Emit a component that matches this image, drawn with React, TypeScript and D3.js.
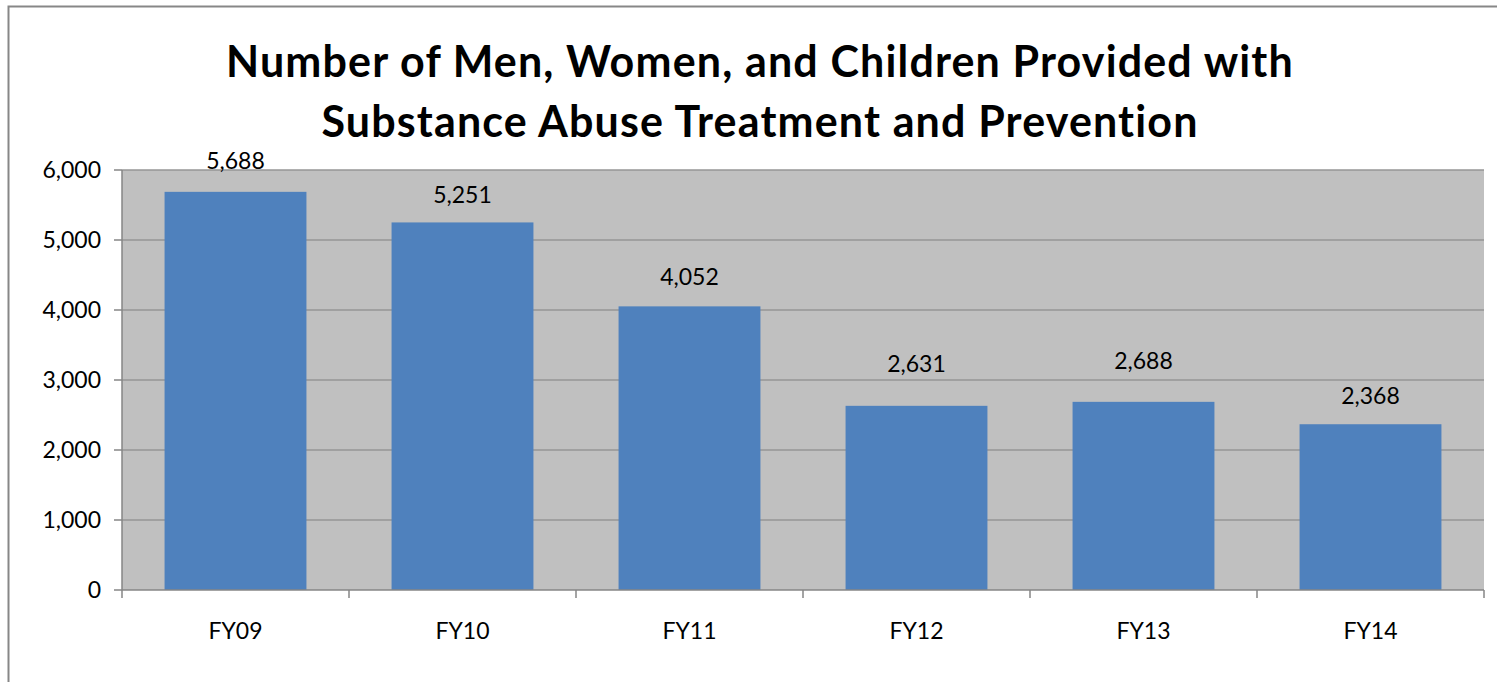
import React from 'react';
import * as d3 from 'd3';

const categories = ['FY09', 'FY10', 'FY11', 'FY12', 'FY13', 'FY14'];
const values = [5688, 5251, 4052, 2631, 2688, 2368];
const yTicks = [0, 1000, 2000, 3000, 4000, 5000, 6000];
const titleLines = [
  'Number of Men, Women, and Children Provided with',
  'Substance Abuse Treatment and Prevention',
];
// distance from bar top to label middle, as the labels sit in the original
const labelGap = [31, 28, 30, 42, 41, 29];

const W = 1497;
const H = 682;
const plot = { left: 122, right: 1484, top: 170, bottom: 590 };
const font = 'Lato, "Open Sans", sans-serif';
const fs = 23;

export default function App() {
  const x = d3.scaleBand()
    .domain(categories)
    .range([plot.left, plot.right])
    .paddingInner(0.375)
    .paddingOuter(0.1875);
  const xOuter = d3.scaleBand().domain(categories).range([plot.left, plot.right]);
  const y = d3.scaleLinear().domain([0, 6000]).range([plot.bottom, plot.top]);
  const fmt = d3.format(',');
  const half = fs * 0.36; // roughly half the digit height

  return (
    <div style={{ position: 'absolute', left: 0, top: 0 }}>
      <svg width={W} height={H} style={{ display: 'block' }}>
        <rect x={0} y={0} width={W} height={H} fill="#fff" />
        <rect x={8.5} y={6.5} width={W + 10} height={H + 10} fill="none" stroke="#878787" strokeWidth={2} />

        {titleLines.map((t, i) => (
          <text key={i} x={760} y={77 + i * 60} textAnchor="middle" fontFamily={font}
            fontWeight="bold" fontSize={43} letterSpacing={1.15} fill="#000">{t}</text>
        ))}

        <rect x={plot.left} y={plot.top} width={plot.right - plot.left} height={plot.bottom - plot.top} fill="#C0C0C0" />

        {yTicks.filter(v => v > 0).map(v => (
          <line key={v} x1={plot.left} x2={plot.right} y1={y(v)} y2={y(v)} stroke="#969696" strokeWidth={1.5} />
        ))}

        {values.map((v, i) => (
          <rect key={i} x={x(categories[i])} y={y(v)} width={x.bandwidth()} height={y(0) - y(v)} fill="#4F81BD" />
        ))}

        <line x1={plot.left} x2={plot.left} y1={plot.top} y2={plot.bottom} stroke="#868686" strokeWidth={1.5} />
        <line x1={plot.left} x2={plot.right} y1={plot.bottom} y2={plot.bottom} stroke="#868686" strokeWidth={1.5} />

        {yTicks.map(v => (
          <g key={v}>
            <line x1={plot.left - 8} x2={plot.left} y1={y(v)} y2={y(v)} stroke="#868686" strokeWidth={1.5} />
            <text x={plot.left - 21} y={y(v) + half} textAnchor="end" fontFamily={font} fontSize={fs} fill="#000">{fmt(v)}</text>
          </g>
        ))}

        {categories.map(c => (
          <line key={c} x1={xOuter(c)} x2={xOuter(c)} y1={plot.bottom} y2={plot.bottom + 8} stroke="#868686" strokeWidth={1.5} />
        ))}
        <line x1={plot.right} x2={plot.right} y1={plot.bottom} y2={plot.bottom + 8} stroke="#868686" strokeWidth={1.5} />

        {categories.map(c => (
          <text key={c} x={(x(c) as number) + x.bandwidth() / 2} y={639} textAnchor="middle"
            fontFamily={font} fontSize={fs} fill="#000">{c}</text>
        ))}

        {values.map((v, i) => (
          <text key={i} x={(x(categories[i]) as number) + x.bandwidth() / 2} y={y(v) - labelGap[i] + half}
            textAnchor="middle" fontFamily={font} fontSize={fs} fill="#000">{fmt(v)}</text>
        ))}
      </svg>
    </div>
  );
}
